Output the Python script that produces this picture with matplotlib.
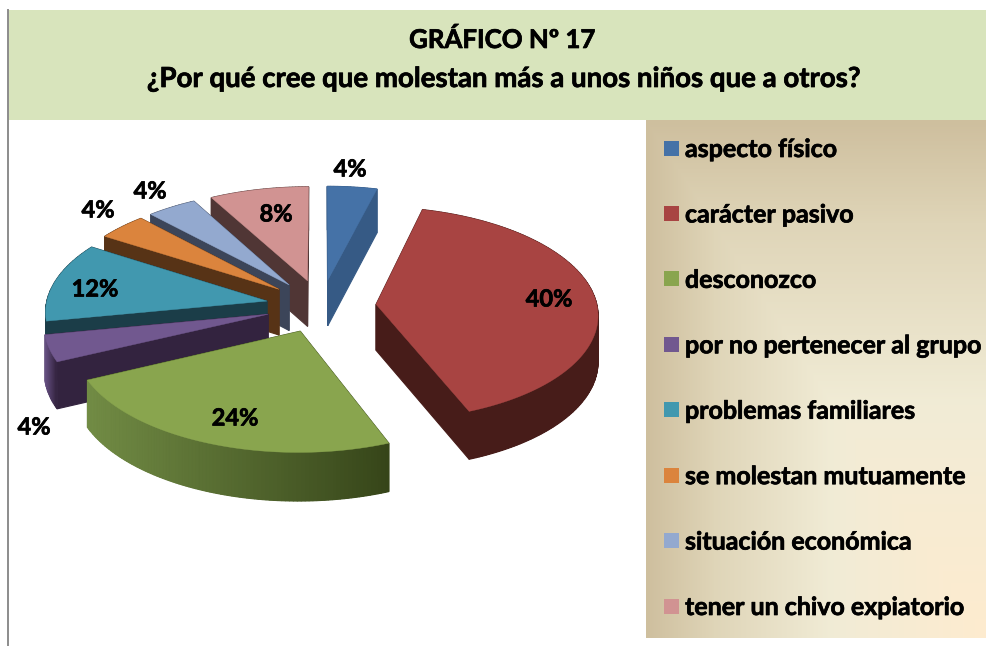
import numpy as np
import matplotlib
matplotlib.use("Agg")
import matplotlib.pyplot as plt
import matplotlib.patheffects as pe
from matplotlib.colors import to_rgb, LinearSegmentedColormap
from matplotlib.patches import Rectangle, Polygon

plt.rcParams['font.family'] = ['Lato', 'DejaVu Sans']

title_lines = ["GRÁFICO Nº 17", "¿Por qué cree que molestan más a unos niños que a otros?"]
categories = ["aspecto físico", "carácter pasivo", "desconozco", "por no pertenecer al grupo",
              "problemas familiares", "se molestan mutuamente", "situación económica",
              "tener un chivo expiatorio"]
values = [4, 40, 24, 4, 12, 4, 4, 8]
labels = ["4%", "40%", "24%", "4%", "12%", "4%", "4%", "8%"]

top_colors = ["#4572A7", "#A84442", "#89A54E", "#71588F", "#4198AF", "#DB843D", "#93A9CF", "#D19392"]
wall_colors = ["#365A85", "#471C19", "#3A4A1C", "#33233F", "#1B3D48", "#573316", "#3C4559", "#503635"]
outer_left = ["#365A85", "#471C19", "#728C45", "#6B5488", "#1B3D48", "#573316", "#3C4559", "#503635"]
outer_right = ["#365A85", "#471C19", "#364519", "#33233F", "#1B3D48", "#573316", "#3C4559", "#503635"]
label_xy = [(350, 169), (549, 299), (235, 418), (34, 427), (95, 289), (98, 210), (150, 191), (276, 214)]

# projection of the tilted pie
CX, CY, RX, RY, PERSP, DEPTH, EXPLODE = 321, 306, 221, 106.2, 0.086, 46, 0.25
HEAVY = [pe.withStroke(linewidth=0.5, foreground="black")]


def project(u, v):
    s = 1 / (1 + PERSP * v)
    return CX + RX * u * s, CY - RY * v * s, DEPTH * np.sqrt(s)


fig = plt.figure(figsize=(9.87, 6.46), dpi=100)
ax = fig.add_axes([0, 0, 1, 1])
ax.set_xlim(0, 987)
ax.set_ylim(646, 0)
ax.axis("off")

# title band and frame line
ax.add_patch(Rectangle((8, 10), 979, 110, fc="#D8E4BC", ec="none", zorder=1))
ax.plot([7.5, 7.5], [10, 645], color="#8C8C8C", lw=1.4, zorder=2)
ax.text(502.5, 39.5, title_lines[0], ha="center", va="center", fontsize=18.6, fontweight="bold",
        color="black", zorder=5, path_effects=HEAVY)
ax.text(503, 79, title_lines[1], ha="center", va="center", fontsize=19.9, fontweight="bold",
        color="black", zorder=5, path_effects=HEAVY)

# legend panel gradient
LX0, LX1, LY0, LY1 = 646, 987, 120, 638
xx, yy = np.meshgrid(np.linspace(0, 1, 341), np.linspace(0, 1, 518))
t = np.maximum(1 - xx, 1 - yy)
cmap = LinearSegmentedColormap.from_list("panel", [(0, "#FEEBCF"), (0.45, "#F1ECD6"), (0.8, "#DFD5B8"), (1, "#CEBF9E")])
ax.imshow(t, cmap=cmap, vmin=0, vmax=1, extent=(LX0, LX1, LY1, LY0), aspect="auto", zorder=1, interpolation="bilinear")
ax.set_xlim(0, 987)
ax.set_ylim(646, 0)

legend_y = np.linspace(148, 606, len(categories))
for name, col, y in zip(categories, top_colors, legend_y):
    ax.add_patch(Rectangle((664, y - 7.5), 15, 15, fc=col, ec="none", zorder=3))
    ax.text(685, y + 1.5, name, ha="left", va="center", fontsize=18, fontweight="bold",
            color="black", zorder=5, path_effects=HEAVY)

# pie slices
total = sum(values)
edges = np.cumsum([0] + values) / total * 2 * np.pi
order = []
for i in range(len(values)):
    mid = (edges[i] + edges[i + 1]) / 2
    order.append((EXPLODE * np.cos(mid), i))
order.sort(reverse=True)

z = 10.0
for _, i in order:
    a0, a1 = edges[i], edges[i + 1]
    mid = (a0 + a1) / 2
    eu, ev = EXPLODE * np.sin(mid), EXPLODE * np.cos(mid)
    ang = np.linspace(a0, a1, max(int(values[i] * 4), 12))
    us = eu + np.sin(ang)
    vs = ev + np.cos(ang)
    ox, oy, od = project(us, vs)
    ax_, ay_, ad_ = project(eu, ev)
    cl, cr = np.array(to_rgb(outer_left[i])), np.array(to_rgb(outer_right[i]))

    # backdrop strip of the outer wall: closes the seams between segments
    strip = list(zip(ox, oy)) + list(zip(ox[::-1], (oy + od)[::-1]))
    z += 0.001
    ax.add_patch(Polygon(strip, closed=True, fc=(cl + cr) / 2, ec="none", zorder=z))

    quads = []
    for idx in (0, -1):
        mean_v = (vs[idx] + ev) / 2
        quads.append((mean_v, [(ax_, ay_), (ox[idx], oy[idx]), (ox[idx], oy[idx] + od[idx]), (ax_, ay_ + ad_)],
                      wall_colors[i]))
    xmin, xmax = ox.min(), ox.max()
    for k in range(len(ang) - 1):
        f = ((ox[k] + ox[k + 1]) / 2 - xmin) / max(xmax - xmin, 1)
        col = cl + (cr - cl) * f
        quads.append(((vs[k] + vs[k + 1]) / 2,
                      [(ox[k], oy[k]), (ox[k + 1], oy[k + 1]), (ox[k + 1], oy[k + 1] + od[k + 1]), (ox[k], oy[k] + od[k])],
                      col))
    quads.sort(key=lambda q: -q[0])
    for _v, pts, col in quads:
        z += 0.001
        ax.add_patch(Polygon(pts, closed=True, fc=col, ec=col, lw=0.8, zorder=z))
    z += 0.001
    top = [(ax_, ay_)] + list(zip(ox, oy))
    ax.add_patch(Polygon(top, closed=True, fc=top_colors[i], ec=top_colors[i], lw=0.3, zorder=z))

for lab, (x, y) in zip(labels, label_xy):
    ax.text(x, y, lab, ha="center", va="center", fontsize=17, fontweight="bold", color="black",
            zorder=50, path_effects=HEAVY)

fig.savefig("out.png", dpi=100)
